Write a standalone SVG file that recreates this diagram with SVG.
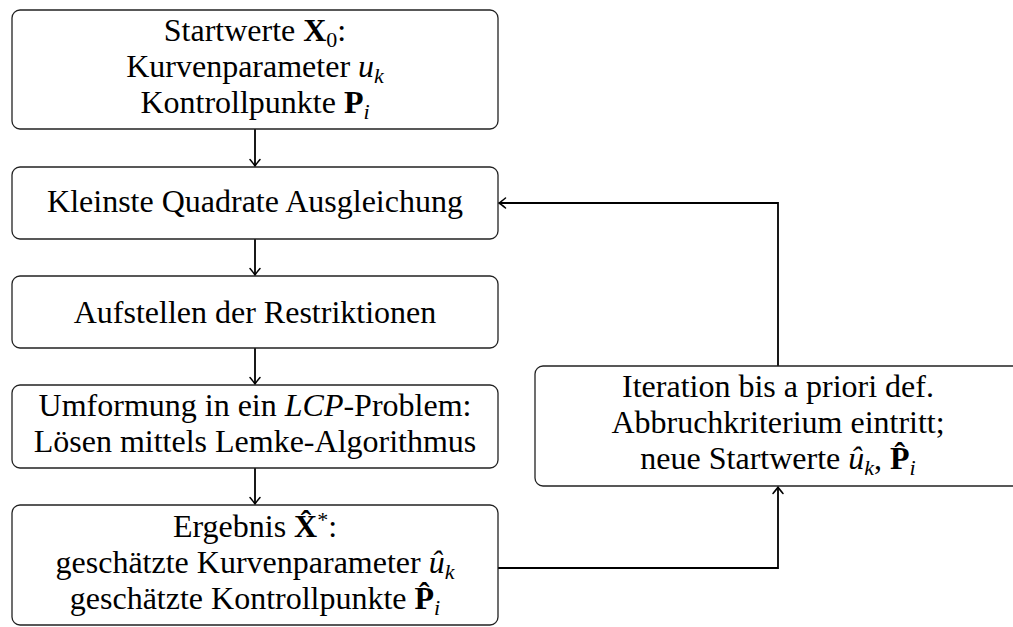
<svg xmlns="http://www.w3.org/2000/svg" width="1013" height="627" viewBox="0 0 1013 627">
<style>
.box{fill:#fff;stroke:#222;stroke-width:1.3}
text{font-family:"Liberation Serif","Times New Roman",serif;font-size:32px;fill:#000;text-anchor:middle}
.b{font-weight:bold}
.i{font-style:italic}
.s{font-size:22px}
.c{fill:none;stroke:#000;stroke-width:1.8}
</style>
<defs>
<marker id="arr" viewBox="-8 -6 10 12" refX="0" refY="0" markerWidth="10" markerHeight="12" markerUnits="userSpaceOnUse" orient="auto">
<path d="M-6.5,-5 Q-2,-1.2 0,0 Q-2,1.2 -6.5,5" fill="none" stroke="#000" stroke-width="1.5" stroke-linecap="round"/>
</marker>
</defs>
<g id="connectors">
<path class="c" d="M255,129 V166" marker-end="url(#arr)"/>
<path class="c" d="M255,239 V275" marker-end="url(#arr)"/>
<path class="c" d="M255,348 V384" marker-end="url(#arr)"/>
<path class="c" d="M255,468 V504" marker-end="url(#arr)"/>
<path class="c" d="M498,568 H778 V487" marker-end="url(#arr)"/>
<path class="c" d="M778,366 V203 H499" marker-end="url(#arr)"/>
</g>
<g id="start">
<rect class="box" x="12" y="10" width="486" height="119" rx="8"/>
<text x="255" y="41">Startwerte <tspan class="b">X</tspan><tspan class="s" dy="6">0</tspan><tspan dy="-6">:</tspan></text>
<text x="255" y="77">Kurvenparameter <tspan class="i">u</tspan><tspan class="s i" dy="6">k</tspan></text>
<text x="255" y="113">Kontrollpunkte <tspan class="b">P</tspan><tspan class="s i" dy="6">i</tspan></text>
</g>
<g id="lsq">
<rect class="box" x="12" y="167" width="486" height="72" rx="8"/>
<text x="255" y="212">Kleinste Quadrate Ausgleichung</text>
</g>
<g id="restr">
<rect class="box" x="12" y="276" width="486" height="72" rx="8"/>
<text x="255" y="323">Aufstellen der Restriktionen</text>
</g>
<g id="lcp">
<rect class="box" x="12" y="385" width="486" height="83" rx="8"/>
<text x="255" y="416">Umformung in ein <tspan class="i">LCP</tspan>-Problem:</text>
<text x="255" y="452">Lösen mittels Lemke-Algorithmus</text>
</g>
<g id="result">
<rect class="box" x="12" y="505" width="486" height="120" rx="8"/>
<text x="255" y="537">Ergebnis <tspan class="b">X&#x302;</tspan><tspan class="s" dy="-10">*</tspan><tspan dy="10">:</tspan></text>
<text x="255" y="573">geschätzte Kurvenparameter <tspan class="i">û</tspan><tspan class="s i" dy="6">k</tspan></text>
<text x="255" y="609">geschätzte Kontrollpunkte <tspan class="b">P&#x302;</tspan><tspan class="s i" dy="6">i</tspan></text>
</g>
<g id="iteration">
<rect class="box" x="535" y="366" width="486" height="120" rx="8"/>
<text x="778" y="397">Iteration bis a priori def.</text>
<text x="778" y="433">Abbruchkriterium eintritt;</text>
<text x="778" y="469">neue Startwerte <tspan class="i">û</tspan><tspan class="s i" dy="6">k</tspan><tspan dy="-6">, </tspan><tspan class="b">P&#x302;</tspan><tspan class="s i" dy="6">i</tspan></text>
</g>
</svg>
